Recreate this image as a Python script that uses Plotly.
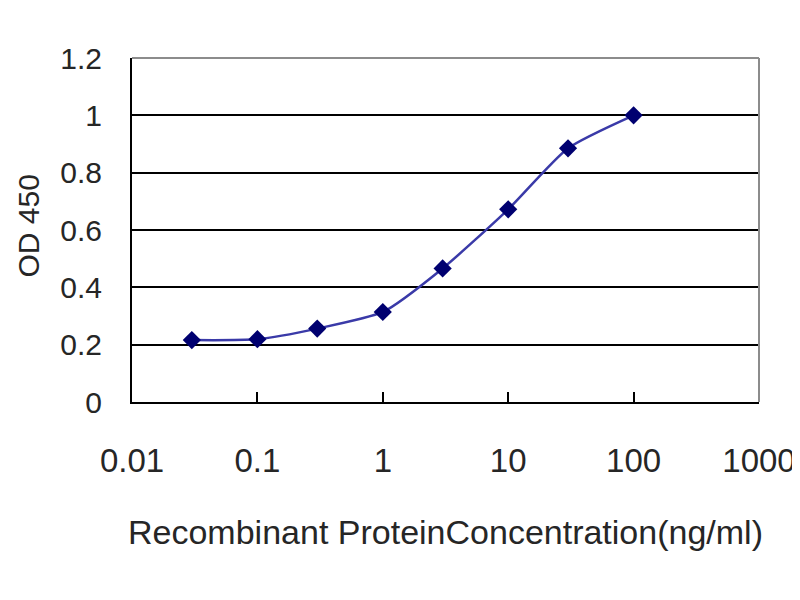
import plotly.graph_objects as go

# concentrations (ng/ml) and OD 450 readings
conc = [0.03, 0.1, 0.3, 1, 3, 10, 30, 100]
od450 = [0.216, 0.219, 0.256, 0.314, 0.466, 0.672, 0.885, 1.0]

x_ticks = [0.01, 0.1, 1, 10, 100, 1000]
x_labels = ["0.01", "0.1", "1", "10", "100", "1000"]
y_ticks = [0, 0.2, 0.4, 0.6, 0.8, 1, 1.2]
y_labels = ["0", "0.2", "0.4", "0.6", "0.8", "1", "1.2"]

fig = go.Figure()
fig.add_trace(go.Scatter(
    x=conc, y=od450,
    mode="lines+markers",
    line=dict(color="#3a3aa8", width=2.5, shape="spline", smoothing=0.6),
    marker=dict(symbol="diamond", size=14, color="#000070"),
    showlegend=False,
))

txt = "#262626"
# page body adds an 8px offset, so the figure is 792x592
fig.update_layout(
    width=792, height=592,
    margin=dict(l=124, r=41, t=50, b=198),
    paper_bgcolor="white", plot_bgcolor="white",
    font=dict(family="Liberation Sans, Arial, sans-serif", color=txt),
    xaxis=dict(
        type="log", range=[-2, 3], automargin=False,
        tickvals=x_ticks, ticktext=x_labels,
        ticks="inside", ticklen=10, tickwidth=2, tickcolor="black",
        tickfont=dict(size=33, color=txt),
        ticklabelstandoff=28,
        showgrid=False, zeroline=False,
        showline=True, linecolor="black", linewidth=2,
        title=dict(text="Recombinant ProteinConcentration(ng/ml)",
                   font=dict(size=34, color=txt), standoff=43),
    ),
    yaxis=dict(
        range=[0, 1.2], automargin=False,
        tickvals=y_ticks, ticktext=y_labels,
        ticks="", tickfont=dict(size=30, color=txt),
        ticklabelstandoff=22,
        showgrid=True, gridcolor="black", gridwidth=2,
        zeroline=False,
        showline=True, linecolor="black", linewidth=2,
    ),
)

# y title as annotation so it can sit closer to the edge
fig.add_annotation(text="OD 450", xref="paper", yref="paper", x=0, y=0.51,
                   xanchor="center", yanchor="middle",
                   xshift=-103, textangle=-90, showarrow=False,
                   font=dict(size=30, color=txt))

# grey frame on top and right like the original
fig.add_shape(type="line", xref="paper", yref="paper", x0=0, x1=1, y0=1, y1=1,
              line=dict(color="#8c8c8c", width=2), layer="above")
fig.add_shape(type="line", xref="paper", yref="paper", x0=1, x1=1, y0=0, y1=1,
              line=dict(color="#8c8c8c", width=2), layer="above")

fig.write_html("out.html")
